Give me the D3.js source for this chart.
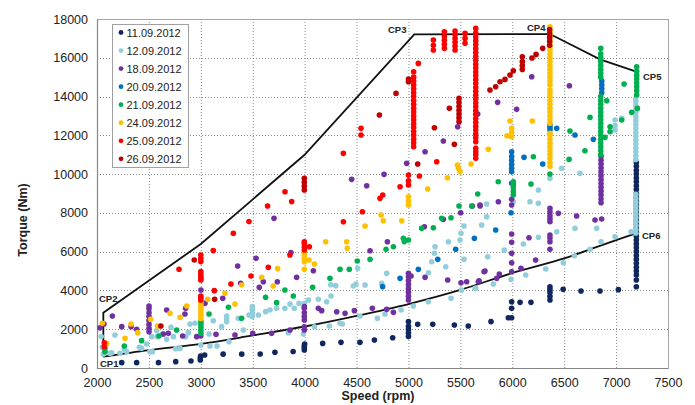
<!DOCTYPE html>
<html>
<head>
<meta charset="utf-8">
<script src="https://cdn.jsdelivr.net/npm/d3@7"></script>
<style>
  body { margin: 0; background: #fff; }
  text { font-family: Arial, "Liberation Sans", sans-serif; }
</style>
</head>
<body>
<div id="chart"></div>
<script>
// Legend labels, one per measurement day
var dates = ["11.09.2012","12.09.2012","18.09.2012","20.09.2012","21.09.2012","24.09.2012","25.09.2012","26.09.2012"];
var colors = ["#10275e","#92cddc","#7030a0","#0070c0","#00b050","#ffc000","#ff0000","#c00000"];

var x_ticks = [2000,2500,3000,3500,4000,4500,5000,5500,6000,6500,7000,7500];
var y_ticks = [0,2000,4000,6000,8000,10000,12000,14000,16000,18000];

// [speed rpm, torque Nm]
var s1109 = [[2238,275],[2382,275],[2592,275],[2758,327],[2905,361],[2995,410],[2995,520],[2998,620],[3037,670],[3215,715],[3394,715],[3572,720],[3714,808],[3889,850],[3997,930],[3997,1050],[3997,1150],[4000,1237],[4174,1270],[4350,1323],[4533,1323],[4672,1444],[4848,1560],[5000,1620],[5000,1800],[5000,1980],[5000,2150],[5000,2390],[5089,2251],[5234,2251],[5442,2217],[5576,2165],[5795,2390],[5962,2595],[5994,2595],[5994,3077],[5994,3420],[6075,3386],[6180,3386],[6363,3506],[6363,3700],[6363,3900],[6363,4050],[6363,4194],[6490,4056],[6662,3970],[6845,3970],[7022,4040],[7195,4194],[7195,4538],
  [7195,4800],[7195,5000],[7195,5200],[7195,5400],[7195,5600],[7195,5800],[7195,6000],[7195,6200],[7195,6400],[7195,6600],[7195,6800],[7195,7000],[7195,7200],[7195,7400],[7195,7600],[7195,7800],[7195,8000],[7195,8200],[7195,8400],[7195,8600],[7195,8800],[7195,9000],[7195,9200],[7195,9400],[7195,9600],[7195,9800],[7195,10000],[7195,10200],[7195,10400],[7195,10600]];

var s1209 = [[2040,1620],[2051,1066],[2061,722],[2125,760],[2141,790],[2173,1700],[2221,757],[2263,963],[2286,842],[2408,1066],[2430,1014],[2478,1238],[2510,842],[2527,1616],[2533,843],[2575,1925],[2581,1617],[2632,1754],[2671,1478],[2713,2098],[2736,1616],[2758,998],[2800,1014],[2854,1617],[2880,1822],[2896,2270],[2944,2305],[3000,1190],[3079,1754],[3088,1134],[3120,2440],[3156,1135],[3200,2133],[3249,2390],[3249,2530],[3249,2680],[3271,1359],[3361,2563],[3409,1961],[3464,2735],[3496,2650],[3496,2820],[3496,3000],[3496,3165],[3554,2735],[3624,2907],[3666,2993],[3730,3079],[3810,3079],[3843,1822],[3859,3300],[3900,3079],[3946,3334],[3988,1753],[3997,3334],[4036,3506],[4094,2131],[4132,3540],[4212,3420],[4238,2165],[4251,4297],[4254,3713],[4299,4246],[4340,2305],[4363,2268],[4469,4228],[4495,4331],[4511,5139],[4533,2681],[4582,4280],[4700,2562],[4742,4366],[4774,2784],[4790,4881],[4929,2991],[5047,3197],[5191,3420],[5192,4916],[5224,5483],[5250,5913],[5256,6255],[5359,5225],[5385,6514],[5410,3592],[5497,6600],[5506,6944],[5512,4022],[5535,7323],[5535,5604],[5641,4108],[5648,4108],[5705,7374],[5753,7804],[5753,8457],[5763,5741],[5818,4331],[5923,6085],[5988,4572],[6010,8577],[6107,6394],[6129,4796],[6171,8577],[6251,8491],[6251,6738],[6322,5105],[6428,7030],[6492,5432],[6598,5793],[6604,7202],[6749,6119],[6813,7202],[6855,6515],[6990,6772],[7144,7030],
  [6251,9180],[6363,9781],[6476,10300],[6652,10039],[6990,12273],[6990,12500],[6990,12790],[7054,12875],
  [7190,6960],[7190,7160],[7190,7360],[7190,7560],[7190,7760],[7190,7960],[7190,8160],[7190,8360],[7190,8560],[7190,8760],[7190,8960],
  [7190,10750],[7190,10950],[7190,11150],[7190,11350],[7190,11550],[7190,11750],[7190,11950],[7190,12150],[7190,12350],[7190,12550],[7190,12750],[7190,12950],[7190,13150],[7190,13350],[7190,13550],[7190,13750],[7190,13900]];

var s1809 = [[2029,2070],[2067,2269],[2148,2683],[2238,2133],[2328,2132],[2382,1995],[2501,1875],[2501,2050],[2501,2250],[2501,2450],[2501,2650],[2501,2850],[2501,3050],[2501,3200],[2639,1754],[2671,2991],[2687,1788],[2825,1650],[2847,2786],[2854,3077],[2960,1616],[3000,1650],[3001,4025],[3001,4624],[3040,3335],[3146,1736],[3211,3593],[3329,1702],[3355,5260],[3384,4366],[3500,1788],[3532,5656],[3563,4160],[3602,4452],[3682,1788],[3705,7718],[3737,4452],[3859,1960],[3868,5951],[3923,4676],
  [3997,1960],[3997,2131],[3997,2475],[3997,2650],[3997,2850],[3997,3077],[3997,3163],
  [4084,5019],[4132,3077],[4164,2957],[4309,2904],[4389,2819],[4453,9729],[4479,2957],[4598,9402],[4630,6050],[4652,3077],[4765,9987],[4790,3025],[4797,6514],[4855,2870],[4983,10554],
  [5000,3506],[5000,3700],[5000,3900],[5000,4100],[5000,4300],[5000,4500],[5000,4700],[5000,4881],
  [5025,4744],[5153,7288],[5160,4675],[5160,11156],[5336,7666],[5336,11706],[5378,4538],[5474,12445],[5503,8010],[5506,4400],[5561,4452],[5616,8354],[5667,13098],[5673,4452],[5680,4503],[5689,8405],[5690,8354],[5728,4967],[5737,5002],[5850,4624],[5859,13700],[5866,8577],[5875,4847],
  [5994,4967],[5994,5432],[5994,5913],[5994,6480],[5994,6910],[5994,8405],[5994,8700],
  [6042,13340],[6084,5140],[6161,6721],[6187,15024],[6225,5569],
  [6363,7546],[6363,7700],[6363,7850],[6363,8050],[6363,8233],[6363,6515],[6363,6700],[6363,6858],[6363,6119],
  [6444,7976],[6550,14560],[6620,7838],[6797,7632],[6861,7683],
  [6855,8520],[6855,8720],[6855,8920],[6855,9120],[6855,9320],[6855,9520],[6855,9720],[6855,9920],[6855,10120],[6855,10320],[6855,10520],[6855,10720],[6855,10920]];

var s2009 = [[4751,4196],[4919,4624],[5095,5088],[5282,5604],[5455,6119],[5635,6686],[5840,7116],[5988,8010],
  [5994,9523],[5994,10125],[5994,10300],[5994,10500],[5994,10700],[5994,10900],[5994,11150],
  [6113,10864],[6293,10520],[6428,12359],[6604,12015],[6781,11792],
  [6363,12270],[6363,12400],[6363,12530],
  [6862,14200],[6862,14400],[6862,14600],[6862,14800]];

var s2109 = [[2077,843],[2077,1015],[2263,1135],[2430,1410],[2597,1651],[2767,1961],
  [3001,1789],[3001,1950],[3001,2100],[3001,2250],[3001,2391],
  [3079,2786],[3266,3130],[3393,2563],[3624,3646],[3730,3371],[3810,4025],[3891,3715],[4077,4160],[4244,4624],[4341,5088],[4430,5088],[4507,5516],[4630,5605],[4784,6119],[4855,6257],[4951,6686],[4960,6520],[5000,6600],[5127,7202],[5240,7236],[5320,7718],[5410,7752],[5487,8354],[5609,8354],[5667,8973],[5865,9608],
  [6010,8921],[6010,9100],[6010,9300],[6010,9450],[6010,9608],
  [6180,9489],[6203,10898],[6363,10004],[6547,10760],[6556,12222],[6700,11208],[6749,12926],
  [6852,11000],[6852,11200],[6852,11400],[6852,11600],[6852,11800],[6852,12000],[6852,12200],[6852,12400],[6852,12600],[6852,12800],[6852,13000],[6852,13200],[6852,13400],[6852,13600],[6852,13800],[6852,14000],
  [6852,15000],[6852,15200],[6852,15400],[6852,15600],[6852,15800],[6852,16000],[6852,16200],[6852,16485],
  [6893,11895],[6910,13786],[6942,12188],[6942,12445],[7054,12789],[7077,14645],[7150,13190],[7205,13390],
  [7198,14078],[7198,14300],[7198,14500],[7198,14700],[7198,14900],[7198,15100],[7198,15300],[7198,15540]];

var s2409 = [[2051,2305],[2093,1273],[2270,1531],[2327,2270],[2392,1823],[2517,2511],[2584,2167],[2703,2821],[2800,2614],[2865,3199],
  [3001,2550],[3001,2700],[3001,2850],[3001,3000],[3001,3150],[3001,3300],[3001,3423],
  [3066,3543],[3233,3853],[3329,3302],[3393,4283],[3586,4678],[3698,4231],[3740,5126],
  [3997,5088],[3997,5483],[3997,5650],[3997,5800],[3997,5913],
  [4042,5569],[4094,5363],[4203,6514],[4405,6514],[4411,6170],[4582,7322],[4736,7890],[4758,7597],[4935,7597],
  [5000,8405],[5000,8600],[5000,8835],
  [5185,9230],[5375,9815],[5472,10468],[5481,10300],[5497,10125],[5603,10520],[5769,11276],[5949,11981],
  [5994,11930],[5994,12150],[5994,12359],[5978,12737],[6193,12737],
  [6363,10400],[6363,10600],[6363,10800],[6363,11000],[6363,11200],[6363,11400],[6363,11600],[6363,11800],[6363,12000],[6363,12100],
  [6363,12620],[6363,12800],[6363,13000],[6363,13200],[6363,13400],[6363,13600],[6363,13800],[6363,14000],[6363,14200],[6363,14340],
  [6363,14600],[6363,14800],[6363,15000],[6363,15200],[6363,15400],[6363,15600],[6363,15800],[6363,16000],[6363,16200],[6363,16400],[6363,16600],[6363,16800],[6363,17000],[6363,17200],[6363,17400],[6363,17600]];

var s2509 = [[2070,1100],[2070,1300],[2790,5090],
  [3000,3509],[3000,3620],[3000,3715],[3000,4541],[3000,4700],[3000,4850],[3000,4970],[3000,5487],[3000,5650],[3000,5830],
  [3120,6054],[3130,3990],[3290,4334],[3313,6949],[3464,7551],[3483,4747],[3643,8359],[3650,5194],[3811,9093],[3858,5830],[3875,8583],
  [3997,6085],[3997,6250],[3997,6420],[3997,6514],
  [4045,6250],[4373,7545],[4373,11070],[4543,12015],[4543,12359],[4556,8062],[4726,8749],[4752,8921],[4919,9350],
  [5000,9440],[5000,9650],[5000,9950],
  [5095,15711],[5105,9901],[5272,10640],
  [5050,11414],[5050,11600],[5050,11800],[5050,12000],[5050,12200],[5050,12400],[5050,12600],[5050,12800],[5050,13000],[5050,13200],[5050,13400],[5050,13600],[5050,13800],[5050,14000],[5050,14200],[5050,14400],[5050,14600],[5050,14800],[5050,15000],[5050,15282],
  [5240,16400],[5240,16650],[5240,16915],
  [5346,16485],[5346,16700],[5346,16900],[5346,17100],[5346,17345],
  [5449,16400],[5449,16600],[5449,16800],[5449,17000],[5449,17200],[5449,17379],
  [5545,16743],[5545,17000],[5545,17258],
  [5648,10812],[5648,11000],[5648,11150],[5648,11328],[5648,11672],[5648,11870],[5648,12070],[5648,12270],[5648,12470],[5648,12670],[5648,12870],[5648,13070],[5648,13270],[5648,13470],[5648,13670],[5648,13870],[5648,14070],[5648,14270],[5648,14470],[5648,14670],[5648,14870],[5648,15070],[5648,15270],[5648,15470],[5648,15670],[5648,15870],[5648,16070],[5648,16270],[5648,16470],[5648,16670],[5648,16870],[5648,17070],[5648,17270],[5648,17516]];

var s2609 = [[2615,2166],[3133,3540],[2937,5573],
  [3997,9180],[3997,9380],[3997,9580],[3997,9780],
  [4720,13047],[4880,14164],[5000,14760],[5000,14900],[5089,10520],[5250,12393],[5394,13391],[5442,11534],
  [5487,12703],[5487,12900],[5487,13100],[5487,13300],[5487,13500],[5487,13700],[5487,13906],
  [5785,14336],[5840,14508],[5882,14766],[5930,14886],[5978,15110],[6010,15330],
  [6097,15400],[6097,15600],[6097,15800],[6097,16055],[6190,15990],[6229,16175],[6293,16485],
  [6360,16650],[6360,16850],[6360,17050],[6360,17250],[6360,17450]];

var series_values = [s1109,s1209,s1809,s2009,s2109,s2409,s2509,s2609];

// operating envelope CP1 -> CP2 -> CP3 -> CP4 -> CP5 -> CP6, then lower curve back to CP1
var envelope_upper = [[2061,583],[2061,2852],[3000,6394],[3997,10984],[5056,17208],[6363,17225],[6845,15920],[7195,15280],[7195,6950]];
var envelope_lower = [[2061,583],[2500,920],[3000,1240],[3500,1680],[4000,2140],[4500,2690],[5000,3300],[5500,4030],[6000,4900],[6500,5650],[7000,6600],[7195,6950]];
var cp_names = ["CP1","CP2","CP3","CP4","CP5","CP6"];
var cp_speed = [2029,2019,4803,6142,7259,7249];
var cp_torque = [52,3404,17276,17394,14852,6678];

var width = 695, height = 405;
var plot = {left: 97, right: 668, top: 19, bottom: 368};

var svg = d3.select("#chart").append("svg")
    .attr("width", width).attr("height", height)
    .attr("viewBox", `0 0 ${width} ${height}`);

var x = d3.scaleLinear().domain([2000,7500]).range([plot.left, plot.right]);
var y = d3.scaleLinear().domain([0,18000]).range([plot.bottom, plot.top]);

// dotted grid
svg.append("g").selectAll("line.vgrid").data(x_ticks.slice(1,-1)).join("line")
    .attr("x1", d => x(d) + 0.5).attr("x2", d => x(d) + 0.5)
    .attr("y1", plot.top).attr("y2", plot.bottom)
    .attr("stroke", "#8c8c8c").attr("stroke-width", 1).attr("stroke-dasharray", "1,2");
svg.append("g").selectAll("line.hgrid").data(y_ticks.slice(1,-1)).join("line")
    .attr("x1", plot.left).attr("x2", plot.right)
    .attr("y1", d => Math.round(y(d)) + 0.5).attr("y2", d => Math.round(y(d)) + 0.5)
    .attr("stroke", "#8c8c8c").attr("stroke-width", 1).attr("stroke-dasharray", "1,2");

// plot frame
svg.append("rect").attr("x", plot.left + 0.5).attr("y", plot.top + 0.5)
    .attr("width", plot.right - plot.left).attr("height", plot.bottom - plot.top)
    .attr("fill", "none").attr("stroke", "#a6a6a6").attr("stroke-width", 1);
svg.append("line").attr("x1", plot.left + 0.5).attr("x2", plot.left + 0.5)
    .attr("y1", plot.top).attr("y2", plot.bottom + 0.5).attr("stroke", "#868686").attr("stroke-width", 1.2);
svg.append("line").attr("x1", plot.left).attr("x2", plot.right)
    .attr("y1", plot.bottom + 0.5).attr("y2", plot.bottom + 0.5).attr("stroke", "#868686").attr("stroke-width", 1.2);

// axes, plain integers without thousands separator
var x_axis = d3.axisBottom(x).tickValues(x_ticks).tickFormat(d3.format("d")).tickSize(0).tickPadding(10);
var y_axis = d3.axisLeft(y).tickValues(y_ticks).tickFormat(d3.format("d")).tickSize(0).tickPadding(9);
var gx = svg.append("g").attr("transform", `translate(0,${plot.bottom})`).call(x_axis);
var gy = svg.append("g").attr("transform", `translate(${plot.left},0)`).call(y_axis);
[gx, gy].forEach(function(g){
  g.select(".domain").remove();
  g.selectAll("text").attr("font-size", "12.5px").attr("fill", "#222")
      .attr("font-family", "Arial, 'Liberation Sans', sans-serif");
});

// axis titles
svg.append("text").attr("x", 378).attr("y", 400).attr("text-anchor", "middle")
    .attr("font-size", "12.5px").attr("font-weight", "bold").attr("fill", "#222").text("Speed (rpm)");
svg.append("text").attr("transform", "translate(27,220) rotate(-90)").attr("text-anchor", "middle")
    .attr("font-size", "12.5px").attr("font-weight", "bold").attr("fill", "#222").text("Torque (Nm)");

// envelope
var line = d3.line().x(d => x(d[0])).y(d => y(d[1]));
svg.append("path").datum(envelope_upper).attr("d", line)
    .attr("fill", "none").attr("stroke", "#111").attr("stroke-width", 1.8);
svg.append("path").datum(envelope_lower).attr("d", line.curve(d3.curveMonotoneX))
    .attr("fill", "none").attr("stroke", "#111").attr("stroke-width", 1.8);

// scatter, first day drawn first so later days sit on top
series_values.forEach(function(values, i){
  svg.append("g").attr("class", "series_" + i).selectAll("circle").data(values).join("circle")
      .attr("cx", d => x(d[0])).attr("cy", d => y(d[1])).attr("r", 2.8)
      .attr("fill", colors[i]);
});

// CP labels
svg.append("g").selectAll("text").data(cp_names).join("text")
    .attr("x", (d,i) => x(cp_speed[i])).attr("y", (d,i) => y(cp_torque[i]))
    .attr("font-size", "9.5px").attr("font-weight", "bold").attr("fill", "#222")
    .text(d => d);

// legend
var legend = svg.append("g").attr("transform", "translate(112,24)");
legend.append("rect").attr("x", 0.5).attr("y", 0.5).attr("width", 76).attr("height", 143)
    .attr("fill", "#fff").attr("stroke", "#a0a0a0").attr("stroke-width", 1);
var rows = legend.selectAll("g.row").data(dates).join("g")
    .attr("transform", (d,i) => `translate(0,${8.5 + i*18.05})`);
rows.append("circle").attr("cx", 9).attr("cy", 0).attr("r", 2.4).attr("fill", (d,i) => colors[i]);
rows.append("text").attr("x", 14.5).attr("y", 4).attr("font-size", "11px").attr("fill", "#222").text(d => d);
</script>
</body>
</html>
